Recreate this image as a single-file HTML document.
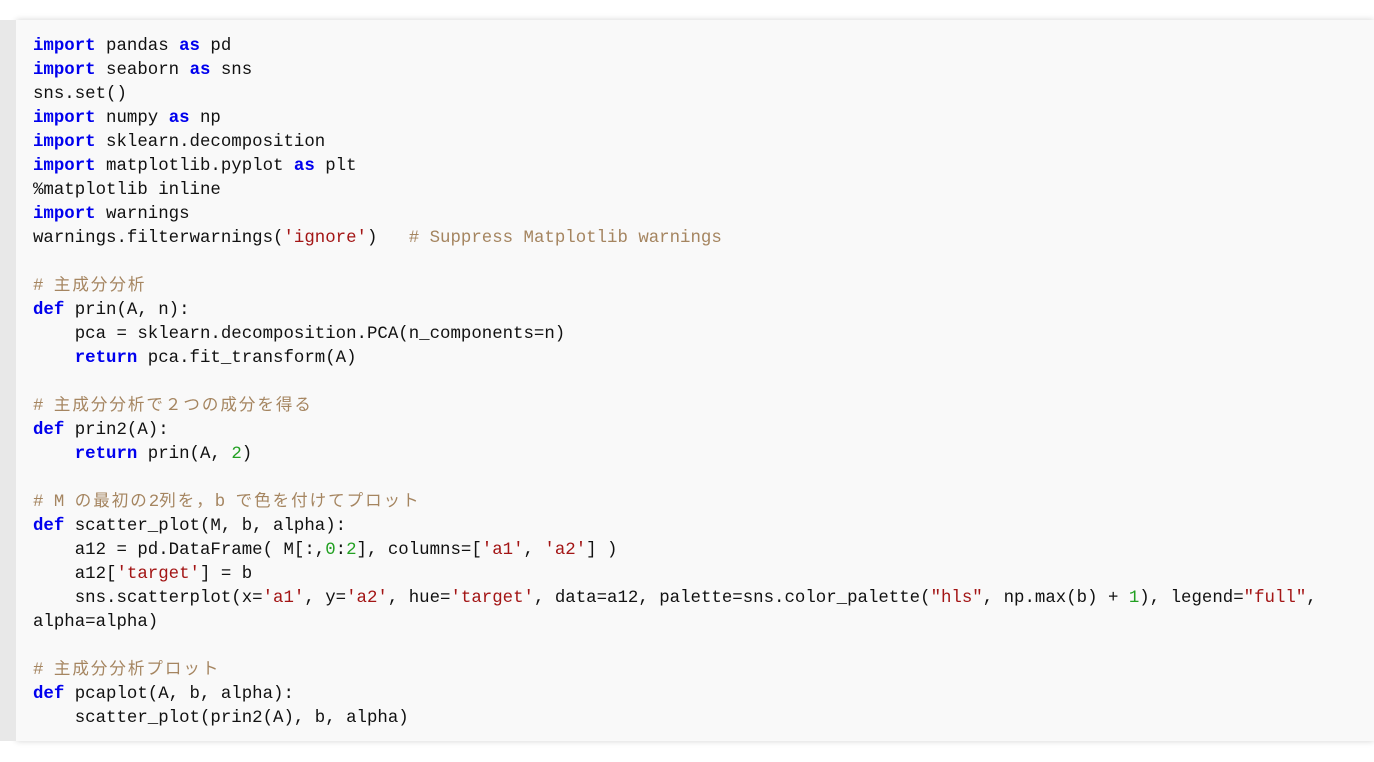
<!DOCTYPE html>
<html><head><meta charset="utf-8"><style>
html,body{margin:0;padding:0;background:#fff;width:1374px;height:762px;overflow:hidden}
.box{position:absolute;left:16px;top:20px;width:1358px;height:721px;background:#f9f9f9;box-shadow:0 0 6px rgba(0,0,0,.18)}
.stripe{position:absolute;left:0;top:20px;width:16px;height:721px;background:#e8e8e8}
pre{position:absolute;left:33px;top:35px;margin:0;font-family:"Liberation Mono",monospace;font-size:17.4px;line-height:24px;color:#111}
.k{color:#0000ee;font-weight:bold}
.s{color:#a31515}
.n{color:#22a022}
.c{color:#a58560}
.j{font-family:"Noto Sans CJK JP",sans-serif;letter-spacing:2px;font-size:16.5px;line-height:0}
</style></head><body>
<div class="box"></div><div class="stripe"></div>
<pre><span class="k">import</span> pandas <span class="k">as</span> pd
<span class="k">import</span> seaborn <span class="k">as</span> sns
sns.set()
<span class="k">import</span> numpy <span class="k">as</span> np
<span class="k">import</span> sklearn.decomposition
<span class="k">import</span> matplotlib.pyplot <span class="k">as</span> plt
%matplotlib inline
<span class="k">import</span> warnings
warnings.filterwarnings(<span class="s">'ignore'</span>)   <span class="c"># Suppress Matplotlib warnings</span>

<span class="c"># <span class="j">主成分分析</span></span>
<span class="k">def</span> prin(A, n):
    pca = sklearn.decomposition.PCA(n_components=n)
    <span class="k">return</span> pca.fit_transform(A)

<span class="c"># <span class="j">主成分分析で２つの成分を得る</span></span>
<span class="k">def</span> prin2(A):
    <span class="k">return</span> prin(A, <span class="n">2</span>)

<span class="c"># M <span class="j">の最初の</span>2<span class="j">列を，</span>b <span class="j">で色を付けてプロット</span></span>
<span class="k">def</span> scatter_plot(M, b, alpha):
    a12 = pd.DataFrame( M[:,<span class="n">0</span>:<span class="n">2</span>], columns=[<span class="s">'a1'</span>, <span class="s">'a2'</span>] )
    a12[<span class="s">'target'</span>] = b
    sns.scatterplot(x=<span class="s">'a1'</span>, y=<span class="s">'a2'</span>, hue=<span class="s">'target'</span>, data=a12, palette=sns.color_palette(<span class="s">"hls"</span>, np.max(b) + <span class="n">1</span>), legend=<span class="s">"full"</span>,
alpha=alpha)

<span class="c"># <span class="j">主成分分析プロット</span></span>
<span class="k">def</span> pcaplot(A, b, alpha):
    scatter_plot(prin2(A), b, alpha)</pre>
</body></html>
